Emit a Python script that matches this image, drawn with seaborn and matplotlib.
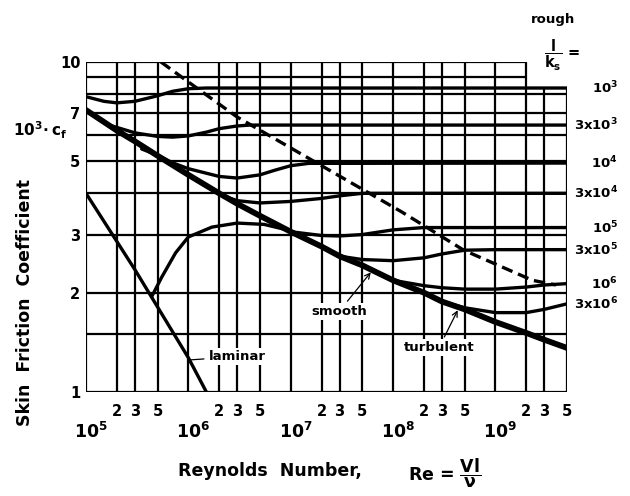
import matplotlib
matplotlib.use("Agg")
import matplotlib.pyplot as plt
import matplotlib.transforms as mtransforms
from matplotlib.ticker import NullLocator
import seaborn as sns

sns.set_style("white")
plt.rcParams['font.family'] = ['DejaVu Sans']
plt.rcParams['font.weight'] = 'bold'
plt.rcParams['mathtext.default'] = 'bf'
for k in ('text.color', 'axes.labelcolor', 'xtick.color', 'ytick.color'):
    plt.rcParams[k] = 'black'

# ---------------- data (10^3 * cf versus Re) ----------------
smooth_re = [1e5, 2e5, 3e5, 5e5, 1e6, 2e6, 3e6, 5e6, 1e7, 2e7, 3e7, 5e7,
             1e8, 2e8, 3e8, 5e8, 1e9, 2e9, 3e9, 5e9]
smooth_cf = [7.15, 6.2, 5.75, 5.2, 4.55, 4.0, 3.72, 3.42, 3.06, 2.76, 2.58, 2.42,
             2.18, 2.0, 1.88, 1.78, 1.63, 1.51, 1.44, 1.36]

laminar_re = [1e5, 3e5, 1e6, 1.5e6]
laminar_cf = [4.0, 2.35, 1.27, 1.0]

transition_re = [4.4e5, 5.5e5, 7.5e5, 1e6, 1.7e6, 3e6, 5.5e6, 1e7]
transition_cf = [1.95, 2.23, 2.64, 2.95, 3.16, 3.25, 3.22, 3.08]

rough_labels = ["10$^3$", "3x10$^3$", "10$^4$", "3x10$^4$",
                "10$^5$", "3x10$^5$", "10$^6$", "3x10$^6$"]
rough_re = [
    [1e5, 1.5e5, 2e5, 3e5, 5e5, 7e5, 1e6, 1.5e6, 5e9],
    [1.8e5, 3e5, 5e5, 7e5, 1e6, 1.5e6, 2e6, 3e6, 4e6, 5e9],
    [3.5e5, 5e5, 7e5, 1e6, 2e6, 3e6, 5e6, 7e6, 1e7, 1.5e7, 5e9],
    [2e6, 3e6, 5e6, 1e7, 2e7, 3e7, 5e7, 1e8, 5e9],
    [1e7, 2e7, 3e7, 5e7, 1e8, 2e8, 5e9],
    [3e7, 5e7, 1e8, 2e8, 3e8, 5e8, 1e9, 5e9],
    [1e8, 2e8, 3e8, 5e8, 1e9, 2e9, 3e9, 5e9],
    [3e8, 5e8, 1e9, 2e9, 3e9, 5e9],
]
rough_cf = [
    [7.85, 7.6, 7.52, 7.6, 7.9, 8.15, 8.3, 8.34, 8.34],
    [6.4, 6.1, 5.95, 5.92, 5.97, 6.13, 6.28, 6.4, 6.44, 6.44],
    [5.45, 5.22, 4.95, 4.75, 4.5, 4.45, 4.55, 4.7, 4.85, 4.93, 4.94],
    [3.97, 3.8, 3.74, 3.78, 3.86, 3.93, 4.0, 4.0, 4.0],
    [3.06, 2.98, 2.97, 3.0, 3.1, 3.15, 3.15],
    [2.58, 2.52, 2.5, 2.55, 2.62, 2.69, 2.7, 2.7],
    [2.18, 2.1, 2.07, 2.05, 2.05, 2.08, 2.11, 2.13],
    [1.88, 1.8, 1.74, 1.74, 1.78, 1.85],
]

limit_re = [5.4e5, 1e6, 3e6, 1.43e7, 1.22e8, 4.9e8, 2.3e9, 3.9e9]
limit_cf = [10.0, 8.7, 6.81, 5.15, 3.51, 2.69, 2.18, 2.11]

grid_x = [m * 10 ** e for e in range(5, 10) for m in (1, 2, 3, 5)]
grid_y = [1, 1.5, 2, 3, 4, 5, 6, 7, 8, 9, 10]
ytick_vals = [1, 2, 3, 5, 7, 10]
decades = [5, 6, 7, 8, 9]
minor_mult = [2, 3, 5]

# ---------------- figure ----------------
W, H = 630, 496
L, R, T, B = 86, 567, 62, 392
fig = plt.figure(figsize=(W / 100, H / 100), dpi=100)
ax = fig.add_axes([L / W, 1 - B / H, (R - L) / W, (B - T) / H])
ax.set_xscale('log')
ax.set_yscale('log')
ax.set_xlim(1e5, 5e9)
ax.set_ylim(1, 10)
for s in ax.spines.values():
    s.set_visible(False)

corner_x = 2e9
corner_y = rough_cf[0][-1]
glw = 1.6
for xv in grid_x:
    top = 10 if xv <= corner_x * 1.001 else corner_y
    ax.vlines(xv, 1, top, color='black', lw=glw, zorder=1)
for yv in grid_y:
    right = 5e9 if yv <= corner_y else corner_x
    ax.hlines(yv, 1e5, right, color='black', lw=glw, zorder=1)

# curves
sns.lineplot(x=smooth_re, y=smooth_cf, ax=ax, color='black', linewidth=4.2,
             estimator=None, legend=False, zorder=3)
sns.lineplot(x=laminar_re, y=laminar_cf, ax=ax, color='black', linewidth=2.4,
             estimator=None, legend=False, zorder=3)
sns.lineplot(x=transition_re, y=transition_cf, ax=ax, color='black', linewidth=2.4,
             estimator=None, legend=False, zorder=3)
for rx, ry in zip(rough_re, rough_cf):
    sns.lineplot(x=rx, y=ry, ax=ax, color='black', linewidth=2.4,
                 estimator=None, legend=False, zorder=3)
sns.lineplot(x=limit_re, y=limit_cf, ax=ax, color='black', linewidth=2.4,
             estimator=None, legend=False, zorder=3)
ax.lines[-1].set_linestyle((0, (3.4, 1.8)))

# ticks
ax.xaxis.set_major_locator(NullLocator())
ax.xaxis.set_minor_locator(NullLocator())
ax.yaxis.set_minor_locator(NullLocator())
ax.set_yticks(ytick_vals)
ax.set_yticklabels([str(v) for v in ytick_vals], fontsize=10.5, fontweight='bold')
ax.tick_params(axis='y', length=0, pad=4)
ax.set_xlabel('')
ax.set_ylabel('')

trx = mtransforms.blended_transform_factory(ax.transData, ax.transAxes)
for e in decades:
    ax.text(10 ** e * 1.12, -0.122, f"10$^{{{e}}}$", transform=trx,
            ha='center', va='center', fontsize=12.5)
    for m in minor_mult:
        if m * 10 ** e <= 5e9:
            ax.text(m * 10 ** e, -0.06, str(m), transform=trx,
                    ha='center', va='center', fontsize=10.5)

# right-hand roughness labels
try_ = mtransforms.blended_transform_factory(ax.transAxes, ax.transData)
xr = (618 - L) / (R - L)
for lab, ry in zip(rough_labels, rough_cf):
    ax.text(xr, ry[-1], lab, transform=try_, ha='right', va='center', fontsize=9.5)

fig.text(553 / W, 1 - 19 / H, "rough", ha='center', va='center', fontsize=9.5)
fig.text(562 / W, 1 - 55 / H, r"$\dfrac{l}{k_s}$ =", ha='center', va='center', fontsize=10.5)
fig.text(40 / W, 1 - 130 / H, r"10$^3\!\cdot$c$_f$", ha='center', va='center', fontsize=11)

fig.text(25 / W, 1 - 302 / H, "Skin  Friction  Coefficient", rotation=90,
         ha='center', va='center', fontsize=12.5)
fig.text(270 / W, 1 - 471 / H, "Reynolds  Number,", ha='center', va='center', fontsize=12.5)
fig.text(445 / W, 1 - 473 / H, r"Re = $\dfrac{Vl}{\nu}$", ha='center', va='center', fontsize=12.5)

# curve annotations
box = dict(boxstyle='square,pad=0.15', fc='white', ec='none')
arw = dict(arrowstyle='-', color='black', lw=0.9)
ax.annotate("laminar", xy=(1e6, 1.25), xytext=(3.0e6, 1.28), ha='center', va='center',
            fontsize=9.5, bbox=box, arrowprops=arw, zorder=5)
ax.annotate("smooth", xy=(6.3e7, 2.34), xytext=(2.95e7, 1.75), ha='center', va='center',
            fontsize=9.5, bbox=box, arrowprops=dict(arrowstyle='->', color='black', lw=0.9), zorder=5)
ax.annotate("turbulent", xy=(4.4e8, 1.8), xytext=(2.8e8, 1.36), ha='center', va='center',
            fontsize=9.5, bbox=box, arrowprops=dict(arrowstyle='->', color='black', lw=0.9), zorder=5)

fig.savefig("out.png", dpi=100, facecolor='white')
